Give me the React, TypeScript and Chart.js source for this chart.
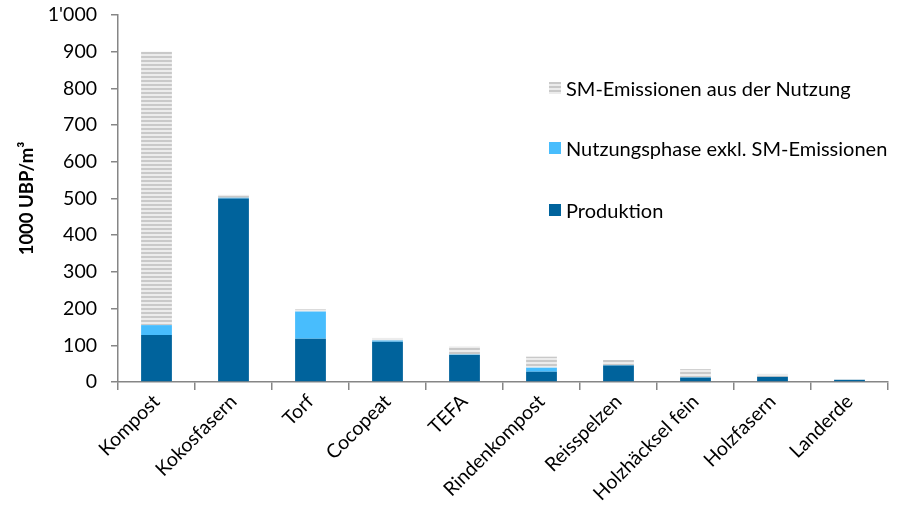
import React, { useEffect, useRef } from 'react';
import { Chart, registerables } from 'chart.js';
Chart.register(...registerables);

const categories = ['Kompost', 'Kokosfasern', 'Torf', 'Cocopeat', 'TEFA', 'Rindenkompost', 'Reisspelzen', 'Holzhäcksel fein', 'Holzfasern', 'Landerde'];
const produktion = [128, 500, 118, 110, 74, 28, 45, 12, 14, 6];
const nutzungsphase = [27, 2, 74, 3, 1, 11, 1, 1, 0, 0];
const smEmissionen = [745, 8, 6, 7, 22, 30, 14, 22, 8, 1];
const yMax = 1000;
const yStep = 100;

const seriesNames = ['SM-Emissionen aus der Nutzung', 'Nutzungsphase exkl. SM-Emissionen', 'Produktion'];
const DARK = '#00639c';
const LIGHT = '#48bdfd';
const STRIPE_A = '#c9c9c9';
const STRIPE_B = '#ececec';
const FONT = 'Lato, "Open Sans", sans-serif';

function makePattern(ctx: CanvasRenderingContext2D) {
  const c = document.createElement('canvas');
  c.width = 4;
  c.height = 4;
  const p = c.getContext('2d')!;
  p.fillStyle = STRIPE_B;
  p.fillRect(0, 0, 4, 4);
  p.fillStyle = STRIPE_A;
  p.fillRect(0, 0, 4, 2);
  return ctx.createPattern(c, 'repeat')!;
}

function fmt(v: number) {
  return String(v).replace(/\B(?=(\d{3})+(?!\d))/g, "'");
}

export default function App() {
  const ref = useRef<HTMLCanvasElement>(null);
  useEffect(() => {
    const ctx = ref.current!.getContext('2d')!;
    const pattern = makePattern(ctx);
    const chart = new Chart(ctx, {
      type: 'bar',
      data: {
        labels: categories,
        datasets: [
          { label: seriesNames[2], data: produktion, backgroundColor: DARK, borderWidth: 0 },
          { label: seriesNames[1], data: nutzungsphase, backgroundColor: LIGHT, borderWidth: 0 },
          { label: seriesNames[0], data: smEmissionen, backgroundColor: pattern as any, borderWidth: 0 },
        ],
      },
      options: {
        animation: false,
        responsive: false,
        devicePixelRatio: 1,
        layout: { padding: { left: 0, right: 34, top: 15, bottom: 0 } },
        datasets: { bar: { categoryPercentage: 1, barPercentage: 0.4 } },
        plugins: { legend: { display: false }, tooltip: { enabled: false } },
        scales: {
          x: {
            stacked: true,
            grid: { offset: true, drawOnChartArea: false, drawTicks: true, tickLength: 8, color: '#868686', lineWidth: 1.5 },
            border: { display: true, color: '#868686', width: 1.5 },
            ticks: {
              color: '#000',
              font: { family: FONT, size: 19.5 },
              minRotation: 45,
              maxRotation: 45,
              padding: 0,
              autoSkip: false,
            },
            afterFit: (s: any) => { s.height = 143; },
          },
          y: {
            stacked: true,
            min: 0,
            max: yMax,
            grid: { drawOnChartArea: false, drawTicks: true, tickLength: 7, color: '#868686', lineWidth: 1.5 },
            border: { display: true, color: '#868686', width: 1.5 },
            ticks: {
              stepSize: yStep,
              color: '#000',
              font: { family: FONT, size: 19.5 },
              padding: 14,
              callback: (v: any) => fmt(Number(v)),
            },
            title: {
              display: true,
              text: '1000 UBP/m³',
              color: '#000',
              font: { family: FONT, size: 18.5, weight: 'bold' },
              padding: { top: 16, bottom: 0 },
            },
            afterFit: (s: any) => { s.width = 118; s.paddingTop = 0; s.paddingBottom = 0; },
          },
        },
      },
    });
    return () => chart.destroy();
  }, []);

  const legendColors = [
    `repeating-linear-gradient(to bottom, ${STRIPE_A} 0px, ${STRIPE_A} 2px, ${STRIPE_B} 2px, ${STRIPE_B} 4px)`,
    LIGHT,
    DARK,
  ];
  const legendTops = [88, 148, 210];

  return (
    <div style={{ position: 'fixed', left: 0, top: 0, width: 922, height: 525, background: '#fff' }}>
      <canvas ref={ref} width={922} height={525} style={{ display: 'block' }} />
      {seriesNames.map((n, i) => (
        <div key={n} style={{ position: 'absolute', left: 549, top: legendTops[i] - 13, height: 26, display: 'flex', alignItems: 'center', fontFamily: FONT, fontSize: 20, color: '#000', whiteSpace: 'nowrap' }}>
          <span style={{ display: 'inline-block', width: 12, height: 12, background: legendColors[i], marginRight: 5 }} />
          <span>{n}</span>
        </div>
      ))}
    </div>
  );
}
